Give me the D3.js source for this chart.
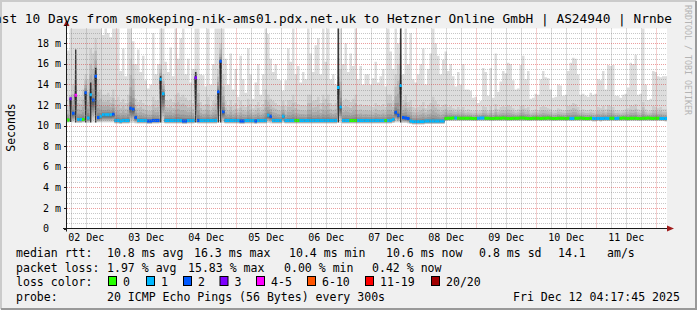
<!DOCTYPE html>
<html>
<head>
<meta charset="utf-8">
<script src="https://cdn.jsdelivr.net/npm/d3@7"></script>
<style>
  body { margin: 0; background: #f0f0f0; }
  svg { display: block; }
  text { font-family: "DejaVu Sans Mono", monospace; fill: #000; }
</style>
</head>
<body>
<svg width="697" height="310"></svg>
<script>
// ---- data (one value per hour, ms) ----
const tStart = Date.UTC(2025, 11, 2, 4, 17, 45);
const tEnd = Date.UTC(2025, 11, 12, 4, 17, 45);

const titleText = "Last 10 Days from smokeping-nik-ams01.pdx.net.uk to Hetzner Online GmbH | AS24940 | Nrnbe";

const medianRtt = [
  10.55,12.6,11.2,12.95,10.6,10.6,10.6,13.2,10.75,13.0,12.5,14.8,10.8,10.9,11.05,11.05,11.05,11.05,11.1,10.5,
  10.5,10.45,10.5,10.5,10.5,11.7,11.6,10.8,10.5,10.5,10.5,10.5,10.45,10.45,10.5,10.5,10.5,14.5,13.1,10.5,
  10.5,10.5,10.5,10.5,10.5,10.5,10.45,10.45,10.5,10.5,10.5,14.65,10.5,10.5,10.5,10.5,10.5,10.5,10.5,10.5,
  13.3,16.25,11.35,10.5,10.5,10.5,10.5,10.5,10.5,10.45,10.45,10.5,10.5,10.5,10.5,10.45,10.5,10.5,10.5,10.5,
  11.0,10.9,10.5,10.5,10.5,10.5,10.9,10.5,10.5,10.5,10.5,10.5,10.5,10.5,10.5,10.5,10.5,10.5,10.5,10.5,
  10.5,10.5,10.5,10.5,10.5,10.5,10.5,10.5,13.7,11.8,10.5,10.5,10.5,10.5,10.5,10.5,10.5,10.5,10.5,10.5,
  10.5,10.5,10.5,10.5,10.5,10.5,10.5,10.5,10.5,10.5,10.6,11.3,11.0,13.9,10.8,10.75,10.7,10.45,10.4,10.4,
  10.4,10.4,10.4,10.45,10.45,10.45,10.45,10.45,10.45,10.45,10.45,10.7,10.72,10.72,10.75,10.75,10.72,10.72,10.72,10.72,
  10.72,10.72,10.7,10.7,10.72,10.75,10.75,10.72,10.72,10.7,10.7,10.72,10.72,10.72,10.75,10.72,10.7,10.7,10.72,10.72,
  10.72,10.75,10.75,10.72,10.7,10.7,10.72,10.72,10.72,10.7,10.72,10.72,10.75,10.72,10.7,10.7,10.72,10.72,10.72,10.7,
  10.72,10.7,10.7,10.72,10.72,10.75,10.72,10.7,10.7,10.72,10.68,10.68,10.7,10.68,10.7,10.72,10.7,10.72,10.72,10.7,
  10.72,10.72,10.75,10.72,10.7,10.72,10.72,10.72,10.7,10.7,10.72,10.72,10.75,10.72,10.7,10.72,10.72,10.7,10.7,10.68
];

// loss class per hour: index into lossLabels
const lossClass = [
  0,3,2,4,1,1,0,2,1,1,2,2,2,1,1,1,1,1,2,1,
  1,1,1,1,1,2,2,2,1,1,1,1,2,2,2,2,2,1,1,1,
  1,1,1,1,1,1,2,2,1,1,1,3,2,1,1,1,1,1,1,1,
  2,2,2,1,1,1,1,1,1,2,2,1,1,1,1,2,1,1,1,1,
  1,2,1,1,1,1,1,1,1,1,1,0,0,1,1,1,1,1,1,1,
  1,1,1,1,1,1,1,1,1,1,1,1,1,0,0,0,1,1,1,1,
  1,1,1,1,1,1,1,0,1,1,1,2,2,1,2,2,2,1,1,1,
  1,1,1,1,1,1,1,1,1,1,1,0,0,0,0,1,0,0,0,0,
  0,0,0,0,1,1,1,0,0,0,0,0,0,0,0,0,0,0,0,0,
  0,0,0,0,0,0,0,0,0,0,0,0,0,0,0,0,0,0,0,0,
  0,1,1,0,0,0,0,0,0,0,1,1,1,1,1,1,1,0,0,1,
  1,0,0,0,0,0,0,0,0,0,0,0,0,0,0,0,0,1,1,1
];

// slowest ping per hour (top of the light smoke)
const maxRtt = [
  17.3,19.6,19.6,19.6,19.6,19.6,19.6,19.6,19.6,19.6,19.6,19.6,19.6,19.6,18.8,19.6,19.0,18.6,19.6,19.6,
  19.6,15.3,17.5,14.8,19.6,19.6,18.2,16.0,17.4,15.2,16.8,14.4,13.6,14.0,19.0,15.0,16.0,19.6,19.6,16.2,
  15.2,17.6,14.8,19.6,16.5,18.5,19.6,15.0,16.5,14.2,15.5,19.6,19.6,15.0,14.9,13.8,19.6,14.0,16.0,19.6,
  19.6,19.6,19.6,16.5,14.0,17.0,13.5,15.5,12.8,16.8,14.5,13.2,17.5,15.0,12.6,14.2,16.0,13.0,15.0,19.6,
  18.9,16.5,15.2,16.0,14.5,14.4,13.4,14.4,17.5,16.2,19.6,15.0,15.8,14.2,15.2,14.5,19.6,17.0,15.2,17.8,
  18.5,15.0,19.6,16.2,19.6,14.5,15.0,14.0,19.6,19.6,16.0,18.0,15.2,17.0,15.8,19.6,14.5,15.8,14.0,15.0,
  15.0,14.0,14.6,16.2,14.2,14.8,15.5,13.8,19.6,17.2,15.5,19.6,18.0,19.6,15.0,19.6,16.0,19.0,14.5,14.2,
  15.0,16.0,17.5,14.0,15.5,17.0,19.6,18.0,16.8,15.0,16.4,17.2,15.3,16.0,14.8,13.8,15.2,14.0,16.0,13.5,
  13.5,13.4,12.7,12.8,12.2,12.4,15.6,15.2,12.9,15.6,12.7,17.0,13.3,14.3,15.3,15.1,16.1,16.0,14.4,13.5,
  13.6,15.9,16.8,14.5,15.3,12.6,12.7,13.1,13.0,14.5,15.3,14.7,14.6,13.5,12.7,12.8,14.0,13.9,12.9,13.0,
  15.3,16.1,16.6,16.5,15.0,13.0,13.1,12.9,12.8,13.2,13.0,13.1,14.5,14.4,15.3,13.5,15.9,15.8,15.9,12.9,
  12.9,12.7,13.0,13.1,13.7,16.1,16.0,16.9,13.0,13.1,19.6,14.0,12.5,12.6,15.3,15.2,14.8,14.7,14.8,14.8
];

// second slowest ping per hour (top of the grey band)
const upperRtt = [
  12.0,13.0,14.0,16.5,13.0,12.8,13.5,15.0,14.5,17.5,17.0,18.5,14.5,13.5,13.0,13.0,13.2,12.8,13.5,12.5,
  12.8,12.3,12.6,12.2,13.0,16.5,16.0,12.6,12.3,12.5,12.2,12.0,11.9,11.9,12.8,12.4,12.5,16.0,15.0,12.5,
  12.4,12.6,12.3,13.0,13.2,12.8,13.0,12.7,12.4,12.5,12.2,15.5,14.5,12.3,12.0,12.1,12.8,11.9,12.4,13.0,
  15.5,18.0,15.0,12.4,12.0,12.5,11.9,12.2,11.7,12.4,12.0,11.8,12.6,12.1,11.7,12.0,12.3,11.8,12.1,13.5,
  13.0,12.6,12.4,12.2,12.0,11.9,12.4,11.9,12.5,12.5,13.0,12.3,12.1,12.0,12.0,11.9,13.0,13.0,12.4,12.5,
  12.8,12.2,13.0,12.6,13.0,12.2,12.0,12.2,18.0,15.5,12.4,12.6,12.5,12.3,12.6,13.0,12.0,12.1,11.9,12.0,
  11.9,11.9,11.8,12.2,12.0,11.9,12.1,11.8,13.0,13.0,12.4,15.0,16.0,18.5,12.5,13.0,12.3,12.5,11.8,11.7,
  11.8,12.0,12.3,11.7,12.0,12.2,12.8,12.4,12.1,11.8,12.0,12.1,11.8,11.9,11.7,11.6,11.8,11.6,11.8,11.5,
  11.6,11.5,11.4,11.5,11.4,11.5,11.9,11.8,11.5,11.9,11.5,12.1,11.6,11.8,11.9,11.8,12.0,11.9,11.7,11.5,
  11.6,11.9,12.0,11.7,11.8,11.4,11.5,11.6,11.5,11.8,11.9,11.8,11.7,11.6,11.4,11.5,11.7,11.6,11.5,11.5,
  11.9,12.0,12.2,12.1,11.8,11.5,11.6,11.5,11.5,11.6,11.5,11.4,11.8,11.7,11.9,11.6,12.0,11.9,11.8,11.5,
  11.5,11.4,11.5,11.6,11.7,12.0,11.9,12.1,11.6,11.5,12.3,11.6,11.4,11.5,11.9,11.8,11.7,11.8,11.6,11.6
];

// fastest ping per hour (bottom of the smoke)
const minRtt = [
  10.3,10.35,10.3,10.3,10.25,10.25,10.3,10.3,10.25,10.3,10.3,10.3,10.3,10.3,10.3,10.3,10.3,10.3,10.3,10.2,
  10.2,10.15,10.2,10.2,10.2,10.25,10.25,10.2,10.2,10.2,10.2,10.2,10.15,10.15,10.2,10.2,10.2,10.3,10.25,10.2,
  10.2,10.2,10.2,10.2,10.2,10.2,10.15,10.15,10.2,10.2,10.2,10.3,10.2,10.2,10.2,10.2,10.2,10.2,10.2,10.2,
  10.3,10.3,10.25,10.2,10.2,10.2,10.2,10.2,10.2,10.15,10.15,10.2,10.2,10.2,10.2,10.15,10.2,10.2,10.2,10.2,
  10.25,10.2,10.2,10.2,10.2,10.2,10.25,10.2,10.2,10.2,10.2,10.2,10.2,10.2,10.2,10.2,10.2,10.2,10.2,10.2,
  10.2,10.2,10.2,10.2,10.2,10.2,10.2,10.2,10.3,10.25,10.2,10.2,10.2,10.2,10.2,10.2,10.2,10.2,10.2,10.2,
  10.2,10.2,10.2,10.2,10.2,10.2,10.2,10.2,10.2,10.2,10.25,10.3,10.3,10.3,10.25,10.25,10.2,10.15,10.1,10.1,
  10.1,10.1,10.1,10.15,10.15,10.15,10.15,10.15,10.15,10.15,10.15,10.45,10.45,10.45,10.45,10.45,10.45,10.45,10.45,10.45,
  10.45,10.45,10.45,10.45,10.45,10.45,10.45,10.45,10.45,10.45,10.45,10.45,10.45,10.45,10.45,10.45,10.45,10.45,10.45,10.45,
  10.45,10.45,10.45,10.45,10.45,10.45,10.45,10.45,10.45,10.45,10.45,10.45,10.45,10.45,10.45,10.45,10.45,10.45,10.45,10.45,
  10.45,10.45,10.45,10.45,10.45,10.45,10.45,10.45,10.45,10.45,10.4,10.4,10.45,10.4,10.45,10.45,10.45,10.45,10.45,10.45,
  10.45,10.45,10.45,10.45,10.45,10.45,10.45,10.45,10.45,10.45,10.45,10.45,10.45,10.45,10.45,10.45,10.45,10.45,10.45,10.4
];

// dark streaks at the latency spikes
const spikeHours = [1, 3, 7, 9, 11, 37, 51, 60, 61, 108, 133];
const spikeTops = [12.6, 17.4, 13.3, 14.2, 15.6, 14.8, 15.2, 13.4, 16.4, 19.5, 19.5];

const lossLabels = ["0", "1", "2", "3", "4-5", "6-10", "11-19", "20/20"];
const lossColors = ["#26ff00", "#00b8ff", "#0059ff", "#7e00ff", "#ff00ff", "#ff5500", "#ff0000", "#a10000"];

const rttStats = ["median rtt:", "10.8 ms avg", "16.3 ms max", "10.4 ms min", "10.6 ms now", "0.8 ms sd", "14.1", "am/s"];
const lossStats = ["packet loss:", "1.97 % avg", "15.83 % max", "0.00 % min", "0.42 % now"];
const probeInfo = ["probe:", "20 ICMP Echo Pings (56 Bytes) every 300s", "Fri Dec 12 04:17:45 2025"];

// ---- layout ----
const svg = d3.select("svg");
const width = +svg.attr("width");
const height = +svg.attr("height");
const plotL = 67, plotR = 667, plotT = 28.5, plotB = 228.5;
const yMax = 19.44;

const x = d3.scaleUtc().domain([tStart, tEnd]).range([plotL, plotR]);
const y = d3.scaleLinear().domain([0, yMax]).range([plotB, plotT]);

// frame
svg.append("rect").attr("width", width).attr("height", height).attr("fill", "#f0f0f0");
svg.append("path").attr("d", `M1,${height - 1}V1H${width - 1}`).attr("stroke", "#cbcbcb").attr("stroke-width", 2).attr("fill", "none");
svg.append("path").attr("d", `M1,${height - 1}H${width - 1}V1`).attr("stroke", "#999").attr("stroke-width", 2).attr("fill", "none");

svg.append("rect")
  .attr("x", plotL).attr("y", plotT)
  .attr("width", plotR - plotL).attr("height", plotB - plotT)
  .attr("fill", "#fff");

svg.append("defs").append("clipPath").attr("id", "plot")
  .append("rect").attr("x", plotL).attr("y", plotT).attr("width", plotR - plotL).attr("height", plotB - plotT);

// 20 sorted pings from min / median / upper / max of each hour
function pingProfile(lo, med, up, hi) {
  const p = [];
  for (let k = 0; k < 10; k++) p.push(lo + (med - lo) * k / 9);
  for (let j = 0; j < 9; j++) p.push(med + (up - med) * Math.pow(j / 8, 3));
  p.push(hi);
  return p;
}

const rows = medianRtt.map((m, i) => ({
  t: tStart + i * 3600e3,
  t1: Math.min(tStart + (i + 1) * 3600e3, tEnd),
  m,
  loss: lossClass[i],
  pings: pingProfile(minRtt[i], m, upperRtt[i], maxRtt[i])
}));
const stepRows = rows.concat([{ ...rows[rows.length - 1], t: tEnd }]);

const plot = svg.append("g").attr("clip-path", "url(#plot)");

// smoke: outer pairs light, inner pairs dark
d3.range(10).forEach(l => {
  const g = Math.round(221 - l * 17);
  const area = d3.area()
    .curve(d3.curveStepAfter)
    .x(d => x(d.t))
    .y0(d => y(d.pings[l]))
    .y1(d => y(d.pings[19 - l]));
  plot.append("path")
    .datum(stepRows)
    .attr("d", area)
    .attr("fill", d3.rgb(g, g, g));
});

spikeHours.forEach((h, i) => {
  const r = rows[h];
  plot.append("line")
    .attr("x1", x(r.t + 1800e3)).attr("x2", x(r.t + 1800e3))
    .attr("y1", y(minRtt[h])).attr("y2", y(spikeTops[i]))
    .attr("stroke", "#1e1e1e").attr("stroke-width", 1.2);
});

// grid
const grid = svg.append("g").attr("fill", "none").attr("stroke-dasharray", "1,1");
const minorY = d3.range(0.5, yMax, 0.5).filter(v => v % 2 !== 0);
const majorY = d3.range(2, yMax, 2);
const days = d3.utcDay.range(tStart, tEnd);
const sixHours = d3.utcHour.every(6).range(tStart, tEnd).filter(t => t.getUTCHours() !== 0);

grid.selectAll(".my").data(minorY).join("line")
  .attr("x1", plotL).attr("x2", plotR)
  .attr("y1", d => Math.round(y(d)) + 0.5).attr("y2", d => Math.round(y(d)) + 0.5)
  .attr("stroke", "rgba(130,130,130,0.45)");
grid.selectAll(".mx").data(sixHours).join("line")
  .attr("x1", d => Math.round(x(d)) + 0.5).attr("x2", d => Math.round(x(d)) + 0.5)
  .attr("y1", plotT).attr("y2", plotB)
  .attr("stroke", "rgba(120,120,120,0.55)");
grid.selectAll(".My").data(majorY).join("line")
  .attr("x1", plotL).attr("x2", plotR)
  .attr("y1", d => Math.round(y(d)) + 0.5).attr("y2", d => Math.round(y(d)) + 0.5)
  .attr("stroke", "rgba(210,40,40,0.45)");
grid.selectAll(".Mx").data(days).join("line")
  .attr("x1", d => Math.round(x(d)) + 0.5).attr("x2", d => Math.round(x(d)) + 0.5)
  .attr("y1", plotT).attr("y2", plotB)
  .attr("stroke", "rgba(210,40,40,0.45)");

// median: one short bar per hour, coloured by loss
plot.append("g").selectAll("line").data(rows).join("line")
  .attr("x1", d => x(d.t)).attr("x2", d => x(d.t1))
  .attr("y1", d => y(d.m)).attr("y2", d => y(d.m))
  .attr("stroke", d => lossColors[d.loss])
  .attr("stroke-width", 3);

// axes
const axisCol = "#1a1a1a", arrowCol = "#a01c1c";
svg.append("line").attr("x1", 63).attr("x2", 669).attr("y1", plotB).attr("y2", plotB).attr("stroke", axisCol);
svg.append("line").attr("x1", plotL - 0.5).attr("x2", plotL - 0.5).attr("y1", plotB + 3).attr("y2", 24).attr("stroke", axisCol);
svg.append("path").attr("d", `M667,${plotB - 3}L674,${plotB}L667,${plotB + 3}Z`).attr("fill", arrowCol);
svg.append("path").attr("d", `M${plotL - 3.5},26L${plotL - 0.5},20L${plotL + 2.5},26Z`).attr("fill", arrowCol);

svg.selectAll(".ytick").data(majorY.concat([0])).join("line")
  .attr("x1", plotL - 3).attr("x2", plotL)
  .attr("y1", d => Math.round(y(d)) + 0.5).attr("y2", d => Math.round(y(d)) + 0.5)
  .attr("stroke", axisCol);

svg.selectAll(".ylab").data([0].concat(majorY)).join("text")
  .attr("x", 61).attr("y", d => y(d))
  .attr("dy", "0.36em")
  .attr("text-anchor", "end")
  .style("white-space", "pre")
  .style("font-size", "10px")
  .text(d => d === 0 ? "0  " : d + " m");

// day labels sit at noon
const labelDays = d3.utcDay.range(d3.utcDay.floor(tStart), tEnd)
  .filter(d => +d + 12 * 3600e3 > tStart && +d + 12 * 3600e3 < tEnd);
svg.selectAll(".xlab").data(labelDays).join("text")
  .attr("x", d => x(+d + 12 * 3600e3))
  .attr("y", 240.5)
  .attr("text-anchor", "middle")
  .style("font-size", "10px")
  .text(d => d3.utcFormat("%d %b")(d));

// title and side labels
svg.append("text").attr("x", -13.7).attr("y", 22.5)
  .style("font-size", "12.8px").text(titleText);

svg.append("text")
  .attr("transform", "translate(10.5,127.5) rotate(-90)")
  .attr("text-anchor", "middle").attr("dy", "0.36em")
  .style("font-size", "11.5px").text("Seconds");

svg.append("text")
  .attr("transform", "translate(688,60) rotate(90)")
  .attr("text-anchor", "middle").attr("dy", "0.36em")
  .style("font-size", "8.3px").style("fill", "#b4b4b4")
  .text("RRDTOOL / TOBI OETIKER");

// legend
const legendFont = "11.56px";
const row1X = [16, 107, 194, 289, 386, 479, 558, 607];
const row2X = [16, 107, 188, 284, 372];
const row4X = [16, 107, 513];
const rowY = [257, 271.5, 286, 300.5];

function textRow(items, xs, yy) {
  svg.append("g").selectAll("text").data(items).join("text")
    .attr("x", (d, i) => xs[i]).attr("y", yy)
    .style("font-size", legendFont)
    .style("white-space", "pre")
    .text(d => d);
}
textRow(rttStats, row1X, rowY[0]);
textRow(lossStats, row2X, rowY[1]);
textRow(probeInfo, row4X, rowY[3]);

svg.append("text").attr("x", 16).attr("y", rowY[2]).style("font-size", legendFont).text("loss color:");
const swatchX = [108, 146, 183, 219.5, 256, 307, 365, 431];
const sw = svg.append("g").selectAll("g").data(lossLabels).join("g")
  .attr("transform", (d, i) => `translate(${swatchX[i]},0)`);
sw.append("rect")
  .attr("x", 0.5).attr("y", rowY[2] - 9.5)
  .attr("width", 8).attr("height", 9)
  .attr("fill", (d, i) => lossColors[i])
  .attr("stroke", "#000");
sw.append("text")
  .attr("x", 15).attr("y", rowY[2])
  .style("font-size", legendFont)
  .text(d => d);
</script>
</body>
</html>
